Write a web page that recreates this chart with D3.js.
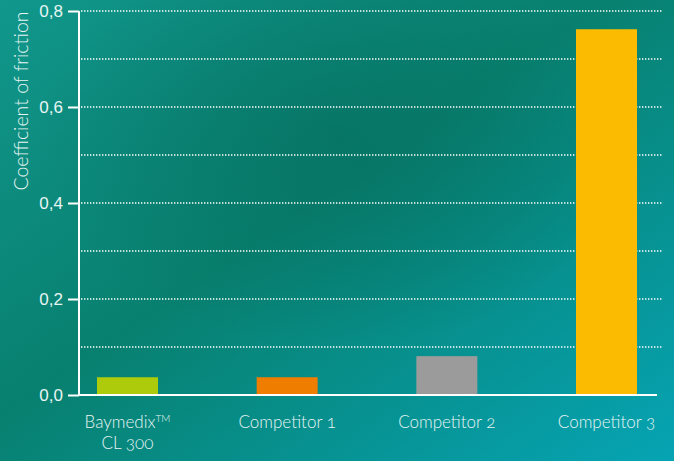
<!DOCTYPE html>
<html>
<head>
<meta charset="utf-8">
<script src="https://cdn.jsdelivr.net/npm/d3@7"></script>
<style>
  html, body { margin: 0; padding: 0; background: #0b8a80; }
  svg { display: block; font-family: Lato, "Open Sans", sans-serif; font-weight: 300; font-feature-settings: "onum"; }
</style>
</head>
<body>
<div id="chart"></div>
<script>
// chart data
var categories = ["Baymedix", "Competitor 1", "Competitor 2", "Competitor 3"];
var values = [0.037, 0.037, 0.081, 0.762];
var barColors = ["#adcb0a", "#ee7d00", "#9b9b9b", "#fbbb00"];
var tickValues = [0, 0.2, 0.4, 0.6, 0.8];
var gridValues = [0.1, 0.2, 0.3, 0.4, 0.5, 0.6, 0.7, 0.8];

var svgWidth = 674, svgHeight = 461;
var margin = { top: 11, right: 17, bottom: 66, left: 79 };
var chartWidth = svgWidth - margin.left - margin.right;
var chartHeight = svgHeight - margin.top - margin.bottom;

var svg = d3.select("#chart").append("svg")
  .attr("width", svgWidth)
  .attr("height", svgHeight);

// background: teal gradient with darker centre
var defs = svg.append("defs");
var lin = defs.append("linearGradient").attr("id", "bgLin")
  .attr("x1", "0").attr("y1", "0").attr("x2", "1").attr("y2", "1");
lin.append("stop").attr("offset", "0%").attr("stop-color", "#11978c");
lin.append("stop").attr("offset", "45%").attr("stop-color", "#08806f");
lin.append("stop").attr("offset", "100%").attr("stop-color", "#06a4b4");
var rad = defs.append("radialGradient").attr("id", "bgRad")
  .attr("cx", "0.5").attr("cy", "0.3").attr("r", "0.45");
rad.append("stop").attr("offset", "0%").attr("stop-color", "#056b5c").attr("stop-opacity", 0.55);
rad.append("stop").attr("offset", "100%").attr("stop-color", "#056b5c").attr("stop-opacity", 0);
svg.append("rect").attr("width", svgWidth).attr("height", svgHeight).attr("fill", "url(#bgLin)");
svg.append("rect").attr("width", svgWidth).attr("height", svgHeight).attr("fill", "url(#bgRad)");

var chartGroup = svg.append("g")
  .attr("transform", `translate(${margin.left}, ${margin.top})`);

var yScale = d3.scaleLinear().domain([0, 0.8]).range([chartHeight, 0]);
// bars sit from x=18 (first) to x=558 (end of last) inside the plot
var xScale = d3.scaleBand().domain(categories)
  .range([18, 558]).paddingInner(0.618).paddingOuter(0);

// dotted gridlines
chartGroup.append("g").selectAll("line")
  .data(gridValues)
  .enter().append("line")
  .attr("x1", 2).attr("x2", 583)
  .attr("y1", d => yScale(d)).attr("y2", d => yScale(d))
  .attr("stroke", "#ffffff")
  .attr("stroke-width", 1.4)
  .attr("stroke-dasharray", "1.4,1.6");

// bars
chartGroup.append("g").selectAll("rect")
  .data(values)
  .enter().append("rect")
  .attr("x", (d, i) => xScale(categories[i]))
  .attr("width", xScale.bandwidth())
  .attr("y", d => yScale(d))
  .attr("height", d => chartHeight - yScale(d))
  .attr("fill", (d, i) => barColors[i]);

// y axis
var yAxis = d3.axisLeft(yScale)
  .tickValues(tickValues)
  .tickSize(11)
  .tickPadding(5)
  .tickFormat(d => d3.format(".1f")(d).replace(".", ","));
var yG = chartGroup.append("g").call(yAxis);
yG.select(".domain").remove();
yG.selectAll(".tick line").attr("stroke", "#ffffff").attr("stroke-width", 2);
yG.selectAll(".tick text").attr("fill", "#e8f5f3").style("font-size", "17px");
chartGroup.append("line")
  .attr("x1", 0).attr("x2", 0).attr("y1", 0).attr("y2", chartHeight + 1)
  .attr("stroke", "#ffffff").attr("stroke-width", 2);

// baseline
chartGroup.append("line")
  .attr("x1", 0).attr("x2", 578).attr("y1", chartHeight).attr("y2", chartHeight)
  .attr("stroke", "#ffffff").attr("stroke-width", 2);

// x labels
var labels = chartGroup.append("g").selectAll("text")
  .data(categories)
  .enter().append("text")
  .attr("x", d => xScale(d) + xScale.bandwidth() / 2)
  .attr("y", chartHeight + 33)
  .attr("text-anchor", "middle")
  .attr("fill", "#e8f5f3")
  .style("font-size", "17px");
labels.each(function(d, i) {
  var t = d3.select(this);
  if (i === 0) {
    t.append("tspan").text(d);
    t.append("tspan").attr("dy", -6).style("font-size", "10px").text("TM");
    t.append("tspan")
      .attr("x", xScale(d) + xScale.bandwidth() / 2)
      .attr("dy", 27).text("CL 300");
  } else {
    t.text(d);
  }
});

// y title
svg.append("text")
  .attr("transform", "translate(28, 101) rotate(-90)")
  .attr("text-anchor", "middle")
  .attr("fill", "#e8f5f3")
  .style("font-size", "19.5px")
  .text("Coefficient of friction");
</script>
</body>
</html>
